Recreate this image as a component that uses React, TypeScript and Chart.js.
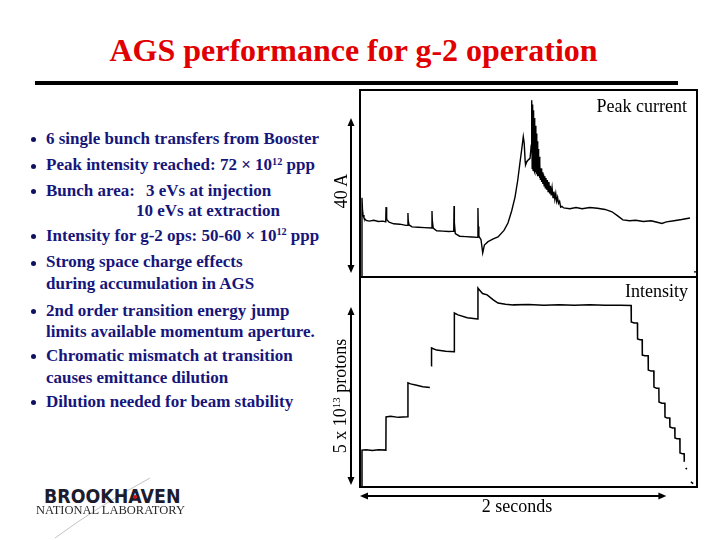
import React, { useEffect, useRef } from 'react';
import { Chart, registerables } from 'chart.js';

Chart.register(...registerables);

const SERIF = '"Liberation Serif", "Times New Roman", Times, serif';
const SANS = '"DejaVu Sans", "Liberation Sans", sans-serif';
const NAVY = '#16167a';

// ---- Scope trace: peak current (A) vs time (ms) ----
const peakTimeMs = [
  13, 13, 16, 20, 26, 40, 60, 90, 120, 150, 168,
  170, 172, 176, 190, 220, 260, 300, 311,
  313, 315, 320, 340, 380, 420, 468,
  470, 472, 478, 500, 540, 580, 612,
  614, 616, 622, 650, 690, 730, 768,
  770, 772, 776, 790, 801, 812, 836, 870, 901, 940,
  966, 990, 1012, 1030, 1044, 1056, 1066, 1072, 1078, 1081,
  1090, 1099, 1110, 1118, 1121,
  1124, 1127, 1130, 1133, 1136, 1139, 1142, 1145, 1148, 1151,
  1154, 1157, 1160, 1163, 1166, 1169, 1172, 1175, 1178, 1182,
  1186, 1190, 1194, 1198, 1202, 1206, 1210, 1214, 1218, 1223,
  1228, 1233, 1238, 1243, 1248, 1254, 1260, 1266, 1272, 1278,
  1284, 1290, 1296, 1303, 1310, 1318,
  1330, 1370, 1410, 1450, 1500, 1550, 1600, 1645, 1680, 1716,
  1760, 1800, 1850, 1900, 1940, 1971, 2000, 2050, 2100, 2154,
  2158, 2180, 2195,
];
const peakCurrentA: (number | null)[] = [
  -1.0, 19.4, 16.5, 15.0, 14.2, 13.6, 13.4, 13.6, 13.3, 13.4, 13.2,
  17.0, 15.0, 13.8, 13.1, 12.7, 12.6, 12.3, 12.3,
  15.5, 13.5, 12.4, 11.9, 11.8, 11.7, 11.6,
  16.0, 13.5, 11.6, 10.9, 10.8, 10.7, 10.8,
  17.3, 13.0, 10.2, 9.5, 9.4, 9.3, 9.2,
  16.8, 12.0, 9.5, 8.6, 5.2, 7.2, 8.1, 8.8, 9.3, 11.0,
  12.9, 16.0, 19.6, 24.0, 28.4, 32.0, 35.2, 33.5, 29.0, 27.9,
  28.8, 29.2, 29.6, 33.0, 44.6,
  27.0, 43.5, 26.5, 42.0, 26.5, 40.0, 26.0, 38.0, 26.0, 36.0,
  25.5, 34.0, 25.0, 32.0, 25.0, 30.0, 24.5, 28.0, 24.0, 27.0,
  23.5, 26.0, 23.0, 25.5, 22.5, 25.0, 22.0, 24.5, 21.5, 24.0,
  21.0, 23.5, 20.5, 22.5, 20.0, 22.0, 19.5, 21.0, 19.0, 20.5,
  18.5, 19.5, 18.0, 18.5, 17.0, 17.2,
  16.8, 16.6, 16.9, 16.6, 16.9, 16.7, 16.4, 15.8, 14.8, 13.7,
  13.5, 13.6, 13.3, 13.5, 13.1, 12.8, 13.2, 13.5, 13.8, 14.2,
  null, 0.3, 0.3,
];

// ---- Scope trace: intensity (10^12 protons) vs time (ms) ----
const intensityTimeMs = [
  13, 13, 40, 80, 120, 169,
  170, 200, 250, 312,
  313, 330, 370, 410, 456,
  460,
  466, 467, 500, 560, 614,
  616, 640, 700, 768,
  770, 780, 800, 830, 870, 901, 950, 1000, 1100, 1200, 1300, 1400, 1500, 1600, 1700, 1770,
  1771, 1790, 1811,
  1812, 1828, 1842,
  1843, 1860, 1881,
  1882, 1900, 1918,
  1919, 1935, 1951,
  1952, 1970, 1990,
  1991, 2005, 2022,
  2023, 2040, 2055,
  2056, 2070, 2088,
  2089, 2105, 2116,
  2117, 2119,
  2126, 2134,
  2145, 2160, 2175,
];
const intensityE12: (number | null)[] = [
  -0.6, 9.8, 9.9, 9.7, 9.9, 9.8,
  19.1, 19.3, 19.0, 19.2,
  28.7, 28.4, 28.0, 27.6, 27.4,
  null,
  33.4, 38.5, 37.9, 37.6, 37.4,
  48.3, 47.8, 47.0, 46.6,
  55.3, 54.8, 53.8, 53.4, 52.0, 51.1, 50.8, 50.6, 50.7, 50.5, 50.6, 50.5, 50.6, 50.5, 50.5, 50.4,
  45.8, 45.5, 45.5,
  41.0, 40.8, 40.8,
  36.5, 36.3, 36.3,
  32.3, 32.0, 32.0,
  27.5, 27.2, 27.2,
  23.3, 23.0, 23.0,
  19.1, 18.8, 18.8,
  16.3, 16.0, 16.0,
  13.2, 13.0, 13.0,
  9.0, 8.8, 8.8,
  6.5, null,
  4.8, 4.4,
  null, 0.9, 0.4,
];

// scale bars drawn as arrows (in data units)
const currentBarA = [0, 40];
const intensityBarE12 = [0, 50];
const timeBarMs = [0, 2000];

function pairs(t: number[], v: (number | null)[]) {
  return t.map((x, i) => ({ x, y: v[i] }));
}

function arrowHead(ctx: CanvasRenderingContext2D, x: number, y: number, dx: number, dy: number) {
  const L = 8, W = 3.5;
  ctx.beginPath();
  ctx.moveTo(x, y);
  ctx.lineTo(x - dx * L - dy * W, y - dy * L + dx * W);
  ctx.lineTo(x - dx * L + dy * W, y - dy * L - dx * W);
  ctx.closePath();
  ctx.fill();
}

function doubleArrow(ctx: CanvasRenderingContext2D, x1: number, y1: number, x2: number, y2: number) {
  const len = Math.hypot(x2 - x1, y2 - y1);
  const dx = (x2 - x1) / len, dy = (y2 - y1) / len;
  ctx.beginPath();
  ctx.moveTo(x1 + dx * 4, y1 + dy * 4);
  ctx.lineTo(x2 - dx * 4, y2 - dy * 4);
  ctx.stroke();
  arrowHead(ctx, x2, y2, dx, dy);
  arrowHead(ctx, x1, y1, -dx, -dy);
}

const framePlugin = {
  id: 'scopeFrame',
  afterDraw(chart: any) {
    const { ctx, chartArea: a, scales } = chart;
    const xs = scales.x, yc = scales.yCurrent, yi = scales.yIntensity;
    ctx.save();
    ctx.strokeStyle = '#000';
    ctx.fillStyle = '#000';
    ctx.lineWidth = 2;
    ctx.strokeRect(a.left, a.top, a.right - a.left, a.bottom - a.top);
    ctx.beginPath();
    ctx.moveTo(a.left, Math.round(yc.bottom));
    ctx.lineTo(a.right, Math.round(yc.bottom));
    ctx.stroke();
    const ax = a.left - 9;
    doubleArrow(ctx, ax, yc.getPixelForValue(currentBarA[0]), ax, yc.getPixelForValue(currentBarA[1]));
    doubleArrow(ctx, ax, yi.getPixelForValue(intensityBarE12[0]), ax, yi.getPixelForValue(intensityBarE12[1]));
    const ay = a.bottom + 9;
    doubleArrow(ctx, xs.getPixelForValue(timeBarMs[0]), ay, xs.getPixelForValue(timeBarMs[1]), ay);
    ctx.restore();
  },
};

function ScopeChart() {
  const ref = useRef<HTMLCanvasElement>(null);
  useEffect(() => {
    const chart = new Chart(ref.current as HTMLCanvasElement, {
      type: 'line',
      data: {
        datasets: [
          {
            label: 'Peak current',
            data: pairs(peakTimeMs, peakCurrentA) as any,
            yAxisID: 'yCurrent',
            borderColor: '#000',
            borderWidth: 1.4,
            pointRadius: 0,
            tension: 0,
            spanGaps: false,
          },
          {
            label: 'Intensity',
            data: pairs(intensityTimeMs, intensityE12) as any,
            yAxisID: 'yIntensity',
            borderColor: '#000',
            borderWidth: 1.5,
            pointRadius: 0,
            tension: 0,
            spanGaps: false,
          },
        ],
      },
      options: {
        animation: false,
        responsive: false,
        maintainAspectRatio: false,
        events: [],
        layout: { padding: { left: 30, top: 10, right: 13, bottom: 43 } },
        plugins: { legend: { display: false }, tooltip: { enabled: false } },
        scales: {
          x: { type: 'linear', min: 0, max: 2200, display: false },
          yCurrent: {
            type: 'linear', position: 'left', stack: 'scope', stackWeight: 187, weight: 2,
            min: -1.03, max: 47.23, display: false,
          },
          yIntensity: {
            type: 'linear', position: 'left', stack: 'scope', stackWeight: 210, weight: 1,
            min: -0.56, max: 58.43, display: false,
          },
        } as any,
      },
      plugins: [framePlugin],
    });
    return () => chart.destroy();
  }, []);
  return (
    <canvas
      ref={ref}
      width={380}
      height={450}
      style={{ position: 'absolute', left: 330, top: 80, width: 380, height: 450 }}
    />
  );
}

type TP = {
  x: number; b: number; size: number; align?: 'left' | 'right' | 'center';
  weight?: number; color?: string; family?: string; asc?: number; spacing?: number;
  extra?: React.CSSProperties; children: React.ReactNode;
};
function T({ x, b, size, align = 'left', weight = 400, color = '#000', family = SERIF, asc = 0.8375, spacing = 0, extra, children }: TP) {
  const style: React.CSSProperties = {
    position: 'absolute', top: b - asc * size, fontSize: size, lineHeight: `${size}px`,
    whiteSpace: 'nowrap', fontWeight: weight, color, fontFamily: family, letterSpacing: spacing,
  };
  if (align === 'left') style.left = x;
  else if (align === 'right') style.right = 720 - x;
  else { style.left = x; style.transform = 'translateX(-50%)'; }
  return <div style={{ ...style, ...extra }}>{children}</div>;
}

const Sup = ({ children }: { children: React.ReactNode }) => (
  <span style={{ fontSize: '0.6em', position: 'relative', top: '-0.55em' }}>{children}</span>
);

function RT({ cx, cy, size, children }: { cx: number; cy: number; size: number; children: React.ReactNode }) {
  return (
    <div style={{
      position: 'absolute', left: cx, top: cy, transform: 'translate(-50%,-50%) rotate(-90deg)',
      fontSize: size, lineHeight: `${size}px`, whiteSpace: 'nowrap', fontFamily: SERIF, color: '#000',
    }}>{children}</div>
  );
}

const Dot = ({ b }: { b: number }) => (
  <div style={{ position: 'absolute', left: 31, top: b - 7, width: 5, height: 5, borderRadius: '50%', background: '#101060' }} />
);

export default function App() {
  const BS = 17;
  const BW = 700;
  return (
    <div style={{ position: 'fixed', left: 0, top: 0, width: 720, height: 540, background: '#fff', overflow: 'hidden', fontFamily: SERIF }}>
      <T x={353.5} b={61} size={32} weight={700} color="#e00000" align="center">AGS performance for g-2 operation</T>
      <div style={{ position: 'absolute', left: 35, top: 81, width: 643, height: 4, background: '#000' }} />

      <Dot b={144} />
      <T x={46} b={144} size={BS} weight={BW} color={NAVY}>6 single bunch transfers from Booster</T>
      <Dot b={170.5} />
      <T x={46} b={170.5} size={BS} weight={BW} color={NAVY}>Peak intensity reached: 72 {'\u00D7'} 10<Sup>12</Sup> ppp</T>
      <Dot b={196} />
      <T x={46} b={196} size={BS} weight={BW} color={NAVY}>Bunch area:</T>
      <T x={146} b={196} size={BS} weight={BW} color={NAVY}>3 eVs at injection</T>
      <T x={136} b={216.5} size={BS} weight={BW} color={NAVY}>10 eVs at extraction</T>
      <Dot b={241} />
      <T x={46} b={241} size={BS} weight={BW} color={NAVY}>Intensity for g-2 ops: 50-60 {'\u00D7'} 10<Sup>12</Sup> ppp</T>
      <Dot b={267.5} />
      <T x={46} b={267.5} size={BS} weight={BW} color={NAVY}>Strong space charge effects</T>
      <T x={46} b={289.5} size={BS} weight={BW} color={NAVY}>during accumulation in AGS</T>
      <Dot b={316} />
      <T x={46} b={316} size={BS} weight={BW} color={NAVY}>2nd order transition energy jump</T>
      <T x={46} b={337.5} size={BS} weight={BW} color={NAVY}>limits available momentum aperture.</T>
      <Dot b={361} />
      <T x={46} b={361} size={BS} weight={BW} color={NAVY}>Chromatic mismatch at transition</T>
      <T x={46} b={383} size={BS} weight={BW} color={NAVY}>causes emittance dilution</T>
      <Dot b={407} />
      <T x={46} b={407} size={BS} weight={BW} color={NAVY}>Dilution needed for beam stability</T>

      <ScopeChart />

      <T x={687} b={112.5} size={18} align="right">Peak current</T>
      <T x={688} b={297} size={18} align="right">Intensity</T>
      <T x={517} b={512} size={18} align="center">2 seconds</T>
      <RT cx={341} cy={190.5} size={18}>40 A</RT>
      <RT cx={341} cy={395.5} size={18}>5 x 10<Sup>13</Sup> protons</RT>

      <svg width={200} height={70} style={{ position: 'absolute', left: 0, top: 470 }}>
        <path d="M 150 8 Q 100 35 55 68" stroke="#c4c4c4" strokeWidth={1} fill="none" />
      </svg>
      <T x={44} b={503} size={20} weight={700} family={SANS} asc={0.846} color="#1c1c2e"
        extra={{ transform: 'scaleX(0.87)', transformOrigin: 'left center' }}>BROOKHAVEN</T>
      <div style={{ position: 'absolute', left: 133, top: 495, width: 4, height: 4, borderRadius: '50%', background: '#d01010' }} />
      <T x={36} b={514} size={12.5} color="#2a2a2a">NATIONAL LABORATORY</T>
    </div>
  );
}
